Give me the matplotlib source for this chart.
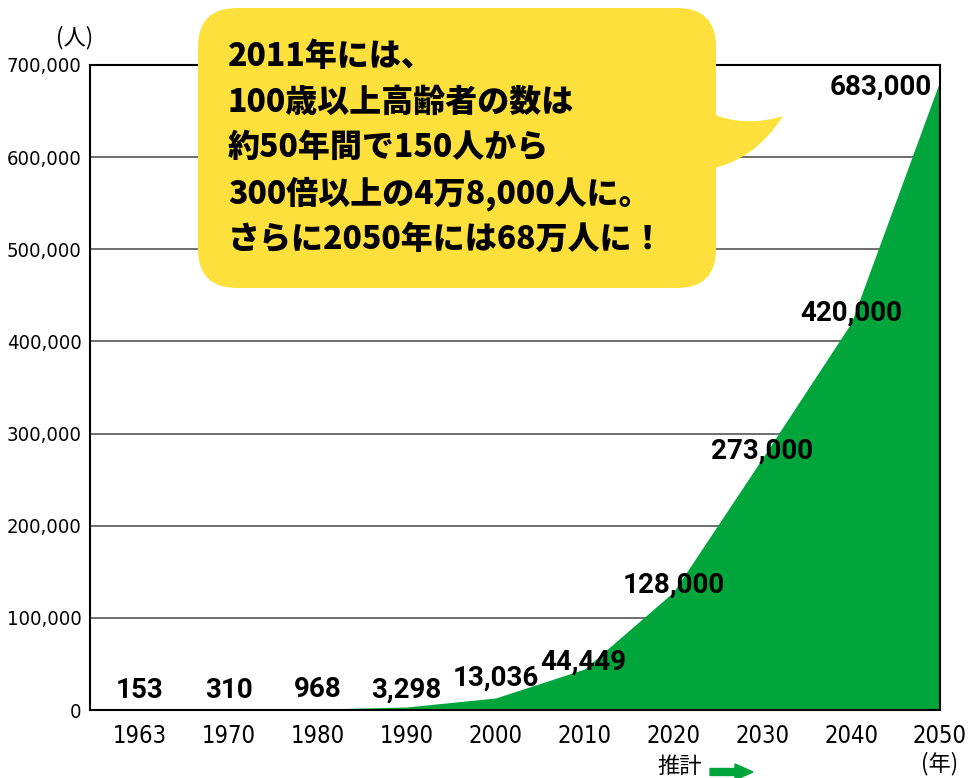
import matplotlib
matplotlib.use("Agg")
import matplotlib.pyplot as plt
from matplotlib.patches import FancyBboxPatch, PathPatch, FancyArrow
from matplotlib.path import Path
from matplotlib import font_manager

# Data
years = ["1963", "1970", "1980", "1990", "2000", "2010", "2020", "2030", "2040", "2050"]
centenarians = [153, 310, 968, 3298, 13036, 44449, 128000, 273000, 420000, 683000]
value_labels = ["153", "310", "968", "3,298", "13,036", "44,449",
                "128,000", "273,000", "420,000", "683,000"]
yticks = [0, 100000, 200000, 300000, 400000, 500000, 600000, 700000]
ytick_labels = ["0", "100,000", "200,000", "300,000", "400,000", "500,000", "600,000", "700,000"]
bubble_lines = [
    "2011年には、",
    "100歳以上高齢者の数は",
    "約50年間で150人から",
    "300倍以上の4万8,000人に。",
    "さらに2050年には68万人に！",
]

GREEN = "#00A63C"
YELLOW = "#FEE03C"
W, H = 970, 778
CJK = ["Noto Sans CJK JP", "DejaVu Sans"]

# look for a narrow face for the tick labels
narrow = None
for f in font_manager.fontManager.ttflist:
    n = f.fname.lower()
    if ("condensed" in n or "narrow" in n) and "bold" not in n and "oblique" not in n \
            and "italic" not in n and "sans" in n:
        narrow = font_manager.FontProperties(fname=f.fname)
        break
if narrow is None:
    narrow = font_manager.FontProperties(family="Roboto")


def fx(px):
    return px / W


def fy(py):
    return 1 - py / H


fig = plt.figure(figsize=(9.7, 7.78), dpi=100)
ax = fig.add_axes([fx(90), fy(710), fx(940) - fx(90), fy(65) - fy(710)])

x = list(range(len(years)))
ax.fill_between(x, centenarians, 0, color=GREEN, lw=0, zorder=2)
ax.set_xlim(-0.5625, 9)
ax.set_ylim(0, 700000)
ax.set_yticks(yticks)
ax.set_yticklabels(ytick_labels)
ax.set_xticks(x)
ax.set_xticklabels(years)
for lab in ax.get_yticklabels():
    lab.set_fontproperties(narrow)
    lab.set_fontsize(14.5)
for lab in ax.get_xticklabels():
    lab.set_fontproperties(narrow)
    lab.set_fontsize(17)
ax.tick_params(length=0, pad=10)
ax.tick_params(axis="y", pad=6)
ax.grid(axis="y", color="#555555", lw=1.2, zorder=1)
for s in ax.spines.values():
    s.set_color("black")
    s.set_linewidth(1.5)
    s.set_zorder(3)

# value labels (offsets in points)
offsets = [(0, 14), (0, 14), (0, 14), (0, 12), (0, 14), (-1, 5),
           (0, 5), (0, 5), (0, 7), (-43, -4.5)]
for xi, v, lab, (dx, dy) in zip(x, centenarians, value_labels, offsets):
    ax.annotate(lab, (xi, v), xytext=(dx, dy), textcoords="offset points",
                ha="center", va="center", fontsize=20, fontweight="bold",
                family="Roboto", zorder=5)

# unit labels
fig.text(fx(75), fy(38), "(人)", ha="center", va="center", fontsize=16, family=CJK)
fig.text(fx(940), fy(764), "(年)", ha="center", va="center", fontsize=16, family=CJK)
fig.text(fx(680), fy(766), "推計", ha="center", va="center", fontsize=16, family=CJK)
fig.patches.append(FancyArrow(fx(710), fy(772), fx(753) - fx(710), 0,
                              width=7 / H, head_width=16 / H, head_length=fx(18),
                              length_includes_head=True, color=GREEN,
                              transform=fig.transFigure, figure=fig))

# speech bubble
bx0, by0, bx1, by1 = 198, 8, 716, 288
bubble = FancyBboxPatch((fx(bx0), fy(by1)), fx(bx1) - fx(bx0), fy(by0) - fy(by1),
                        boxstyle="round,pad=0,rounding_size=0.04",
                        mutation_aspect=W / H,
                        transform=fig.transFigure, facecolor=YELLOW,
                        edgecolor="none", zorder=10)
fig.patches.append(bubble)
tail_pts = [(710, 113), (745, 128), (783, 116),
            (755, 160), (710, 169), (710, 113)]
codes = [Path.MOVETO, Path.CURVE3, Path.CURVE3,
         Path.CURVE3, Path.CURVE3, Path.CLOSEPOLY]
tail = PathPatch(Path([(fx(a), fy(b)) for a, b in tail_pts], codes),
                 transform=fig.transFigure, facecolor=YELLOW, edgecolor="none", zorder=10)
fig.patches.append(tail)

for i, line in enumerate(bubble_lines):
    fig.text(fx(228), fy(56 + i * 45.8), line, ha="left", va="center",
             fontsize=23, fontweight="heavy", family=CJK, zorder=11)

fig.savefig("out.png", dpi=100)
